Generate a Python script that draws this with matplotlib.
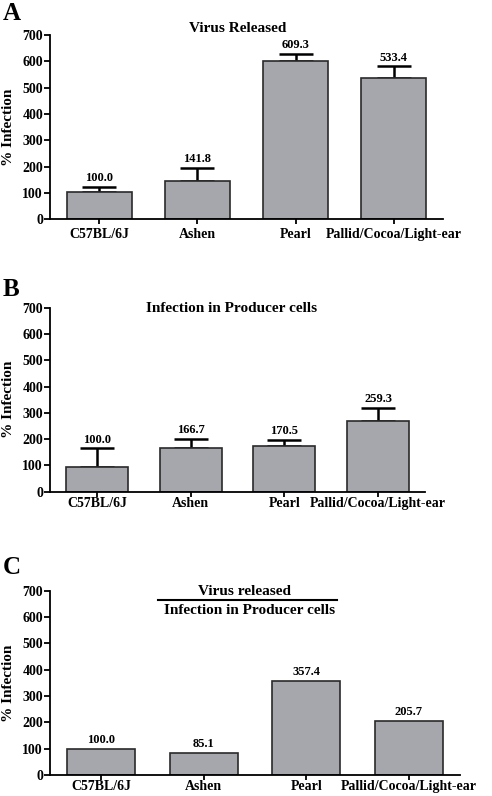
import matplotlib
matplotlib.use("Agg")
import matplotlib.pyplot as plt
import numpy as np

plt.rcParams['font.family'] = ['Liberation Serif', 'DejaVu Serif']
plt.rcParams['font.weight'] = 'bold'

categories = ["C57BL/6J", "Ashen", "Pearl", "Pallid/Cocoa/Light-ear"]

# Panel A: Virus Released
a_heights = [103, 147, 601, 537]
a_err = [19, 49, 26, 44]
a_labels = ["100.0", "141.8", "609.3", "533.4"]

# Panel B: Infection in Producer cells
b_heights = [95, 166, 173, 270]
b_err = [70, 34, 25, 50]
b_labels = ["100.0", "166.7", "170.5", "259.3"]

# Panel C: ratio
c_heights = [100.0, 85.1, 357.4, 205.7]
c_labels = ["100.0", "85.1", "357.4", "205.7"]

yticks = [0, 100, 200, 300, 400, 500, 600, 700]

W, H = 492, 796
fig = plt.figure(figsize=(W / 100, H / 100), dpi=100)

BAR_COLOR = "#a6a6ad"
EDGE = "#2a2a2a"


def px_axes(left, right, top_px, bottom_px):
    return fig.add_axes([left / W, 1 - bottom_px / H, (right - left) / W, (bottom_px - top_px) / H])


def style(ax, width_px, xpad):
    ax.set_xlim(-0.5, 3.5)
    ax.set_ylim(0, 700)
    ax.set_yticks(yticks)
    ax.set_xticks(range(len(categories)))
    ax.set_xticklabels(categories, fontsize=10, fontweight='bold')
    ax.tick_params(axis='y', labelsize=10, length=4, width=1.3, pad=1)
    ax.tick_params(axis='x', length=3.5, width=1.3, pad=xpad)
    for lab in ax.get_yticklabels():
        lab.set_fontweight('bold')
    for s in ['top', 'right']:
        ax.spines[s].set_visible(False)
    for s in ['left', 'bottom']:
        ax.spines[s].set_linewidth(1.3)
    ax.set_ylabel("% Infection", fontsize=11, fontweight='bold')
    ax.yaxis.set_label_coords(-(50 - 15) / width_px, 0.5)


def panel(ax, heights, err, labels, width_px, xpad):
    x = np.arange(len(categories))
    ax.bar(x, heights, width=0.66, color=BAR_COLOR, edgecolor=EDGE, linewidth=1.2, zorder=2)
    if err is not None:
        ax.errorbar(x, heights, yerr=[np.zeros(len(err)), err], fmt='none', ecolor='black',
                    elinewidth=1.8, capsize=12, capthick=1.8, zorder=1)
        tops = np.array(heights) + np.array(err)
    else:
        tops = np.array(heights)
    for xi, t, lab in zip(x, tops, labels):
        ax.annotate(lab, (xi, t), xytext=(0, 2), textcoords='offset points',
                    ha='center', va='bottom', fontsize=9, fontweight='bold')
    style(ax, width_px, xpad)


axA = px_axes(50, 443, 35, 219.3)
panel(axA, a_heights, a_err, a_labels, 393, 2.5)
fig.text(238 / W, 1 - 32 / H, "Virus Released", ha='center', va='baseline', fontsize=11, fontweight='bold')

axB = px_axes(50, 425, 307.7, 491.7)
panel(axB, b_heights, b_err, b_labels, 375, 0.5)
fig.text(232 / W, 1 - 312 / H, "Infection in Producer cells", ha='center', va='baseline', fontsize=11, fontweight='bold')

axC = px_axes(50, 460, 590.7, 775)
panel(axC, c_heights, None, c_labels, 410, 0.3)
fig.text(245 / W, 1 - 595 / H, "Virus released", ha='center', va='baseline', fontsize=11, fontweight='bold')
fig.add_artist(plt.Line2D([158 / W, 337 / W], [1 - 600 / H, 1 - 600 / H], color='black', lw=1.5))
fig.text(250 / W, 1 - 614 / H, "Infection in Producer cells", ha='center', va='baseline', fontsize=11, fontweight='bold')

fig.text(3 / W, 1 - 20 / H, "A", ha='left', va='baseline', fontsize=18, fontweight='bold')
fig.text(3 / W, 1 - 296 / H, "B", ha='left', va='baseline', fontsize=18, fontweight='bold')
fig.text(3 / W, 1 - 574 / H, "C", ha='left', va='baseline', fontsize=18, fontweight='bold')

fig.savefig("out.png", dpi=100)
